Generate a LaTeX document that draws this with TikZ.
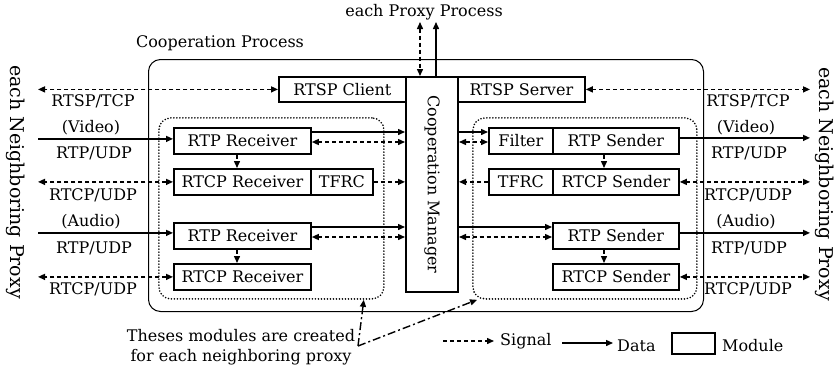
\documentclass[tikz,border=0pt]{standalone}
\usepackage{fontspec}
\setmainfont{DejaVu Serif}
\usetikzlibrary{arrows.meta}
\begin{document}
\begin{tikzpicture}[x=1pt,y=-1pt,
  >={Triangle[length=7pt,width=6pt]},
  every node/.style={font=\fontsize{16}{20}\selectfont, inner sep=0pt},
  mod/.style={draw, line width=1.8pt, anchor=north west, minimum height=26pt},
  sig/.style={line width=1.4pt, dash pattern=on 4pt off 3pt, ->},
  sigboth/.style={line width=1.4pt, dash pattern=on 4pt off 3pt, <->},
  dat/.style={line width=1.4pt, ->},
  grp/.style={draw, line width=1.8pt, dash pattern=on 0pt off 3pt, line cap=round,
    rounded corners=12pt, anchor=north west},
  dashdot/.style={line width=1.4pt, dash pattern=on 8pt off 3pt on 2pt off 3pt, ->},
  side/.style={rotate=-90, font=\fontsize{19}{22}\selectfont},
]
\useasboundingbox (0,0) rectangle (837,370);

% titles
\node (ptitle) at (424,12) {each Proxy Process};
\node (ctitle) at (220,43) {Cooperation Process};
\node[side] (lside) at (16,182) {each Neighboring Proxy};
\node[side] (rside) at (825,184) {each Neighboring Proxy};

% containers
\node[draw, line width=1pt, rounded corners=12pt, anchor=north west,
  minimum width=555pt, minimum height=252pt] (frame) at (148,59) {};
\node[grp, minimum width=225pt, minimum height=181pt] (gl) at (158,117) {};
\node[grp, minimum width=224pt, minimum height=181pt] (gr) at (472,117) {};

% cooperation manager
\node[mod, line width=2pt, minimum width=52pt, minimum height=215pt] (mgr) at (405,76) {};
\node[rotate=-90] (mgrtext) at (mgr.center) {Cooperation Manager};

% RTSP modules
\node[mod, minimum width=127pt, minimum height=25pt] (rtspc) at (278,76) {RTSP Client};
\node[mod, minimum width=127pt, minimum height=25pt] (rtsps) at (457,76) {RTSP Server};

% receiving side
\node[mod, minimum width=137pt] (rprv) at (173,127) {RTP Receiver};
\node[mod, minimum width=137pt] (rcrv) at (173,168) {RTCP Receiver};
\node[mod, minimum width=62pt] (tfrcl) at (310,168) {TFRC};
\node[mod, minimum width=137pt] (rpra) at (173,222) {RTP Receiver};
\node[mod, minimum width=137pt] (rcra) at (173,263) {RTCP Receiver};

% sending side
\node[mod, minimum width=64pt] (filt) at (488,127) {Filter};
\node[mod, minimum width=126pt] (rpsv) at (552,127) {RTP Sender};
\node[mod, minimum width=64pt] (tfrcr) at (488,168) {TFRC};
\node[mod, minimum width=126pt] (rcsv) at (552,168) {RTCP Sender};
\node[mod, minimum width=126pt] (rpsa) at (552,222) {RTP Sender};
\node[mod, minimum width=126pt] (rcsa) at (552,263) {RTCP Sender};

% protocol labels
\node (lrtsp) at (93,101) {RTSP/TCP};
\node (lvid) at (91,128) {(Video)};
\node (lrtp1) at (94,153) {RTP/UDP};
\node (lrtcp1) at (93,195) {RTCP/UDP};
\node (laud) at (91,222) {(Audio)};
\node (lrtp2) at (94,248) {RTP/UDP};
\node (lrtcp2) at (93,289) {RTCP/UDP};
\node (rrtsp) at (748,101) {RTSP/TCP};
\node (rvid) at (746,128) {(Video)};
\node (rrtp1) at (749,153) {RTP/UDP};
\node (rrtcp1) at (748,195) {RTCP/UDP};
\node (raud) at (746,222) {(Audio)};
\node (rrtp2) at (749,248) {RTP/UDP};
\node (rrtcp2) at (748,289) {RTCP/UDP};

% free ends
\coordinate (Lx) at (38,0);
\coordinate (Rx) at (810,0);
\coordinate (px1) at (420,22);
\coordinate (px2) at (436,22);
\coordinate (vl) at (237,0);
\coordinate (vr) at (604,0);

% to / from the proxy process
\draw[sigboth] (px1) -- (px1 |- mgr.north);
\draw[dat] (px2 |- mgr.north) -- (px2);

% neighbours, left
\draw[sigboth] (rtspc.west) -- (rtspc.west -| Lx);
\coordinate (a1) at ([yshift=2pt]rprv.west);
\draw[dat] (a1 -| Lx) -- (a1);
\draw[sigboth] (rcrv.west) -- (rcrv.west -| Lx);
\coordinate (a2) at ([yshift=3pt]rpra.west);
\draw[dat] (a2 -| Lx) -- (a2);
\draw[sigboth] (rcra.west) -- (rcra.west -| Lx);

% neighbours, right
\draw[sigboth] (rtsps.east) -- (rtsps.east -| Rx);
\coordinate (b1) at ([yshift=3pt]rpsv.east);
\draw[dat] (b1) -- (b1 -| Rx);
\draw[sigboth] (rcsv.east) -- (rcsv.east -| Rx);
\coordinate (b2) at ([yshift=3pt]rpsa.east);
\draw[dat] (b2) -- (b2 -| Rx);
\draw[sigboth] (rcsa.east) -- (rcsa.east -| Rx);

% receivers to manager
\coordinate (c1) at ([yshift=-5pt]rprv.north east);
\coordinate (c2) at ([yshift=-15pt]rprv.north east);
\draw[dat] (c1) -- (c1 -| mgr.west);
\draw[sigboth] (c2) -- (c2 -| mgr.west);
\draw[sig] (tfrcl.east) -- (tfrcl.east -| mgr.west);
\coordinate (c3) at ([yshift=-5pt]rpra.north east);
\coordinate (c4) at ([yshift=-15pt]rpra.north east);
\draw[dat] (c3) -- (c3 -| mgr.west);
\draw[sigboth] (c4) -- (c4 -| mgr.west);
\draw[sig] (rprv.south -| vl) -- (rcrv.north -| vl);
\draw[sig] (rpra.south -| vl) -- (rcra.north -| vl);

% manager to senders
\coordinate (d1) at ([yshift=-5pt]filt.north west);
\coordinate (d2) at ([yshift=-15pt]filt.north west);
\draw[dat] (d1 -| mgr.east) -- (d1);
\draw[sigboth] (d2 -| mgr.east) -- (d2);
\draw[sig] (tfrcr.west) -- (tfrcr.west -| mgr.east);
\coordinate (d3) at ([yshift=-5pt]rpsa.north west);
\coordinate (d4) at ([yshift=-15pt]rpsa.north west);
\draw[dat] (d3 -| mgr.east) -- (d3);
\draw[sigboth] (d4 -| mgr.east) -- (d4);
\draw[sig] (rpsv.south -| vr) -- (rcsv.north -| vr);
\draw[sig] (rpsa.south -| vr) -- (rcsa.north -| vr);

% note on per-neighbour modules
\node[align=center] (note) at (241,347) {Theses modules are created\\for each neighboring proxy};
\coordinate (nc) at (358,346);
\draw[dashdot] (nc) -- ([xshift=-21pt]gl.south east);
\draw[dashdot] (nc) -- ([xshift=5pt]gr.south west);

% legend
\coordinate (ls) at (443,341);
\node[anchor=west] (lsig) at (500,341) {Signal};
\draw[sig] (ls) -- ([xshift=-6pt]ls -| lsig.west);
\coordinate (ld) at (562,343);
\node[anchor=west] (ldat) at (617,346) {Data};
\draw[dat] (ld) -- ([xshift=-4pt]ld -| ldat.west);
\node[draw, line width=1.8pt, anchor=north west, minimum width=43pt, minimum height=21pt] (lmod) at (671,332) {};
\node[anchor=west] (lmodt) at (722,346) {Module};
\end{tikzpicture}
\end{document}
